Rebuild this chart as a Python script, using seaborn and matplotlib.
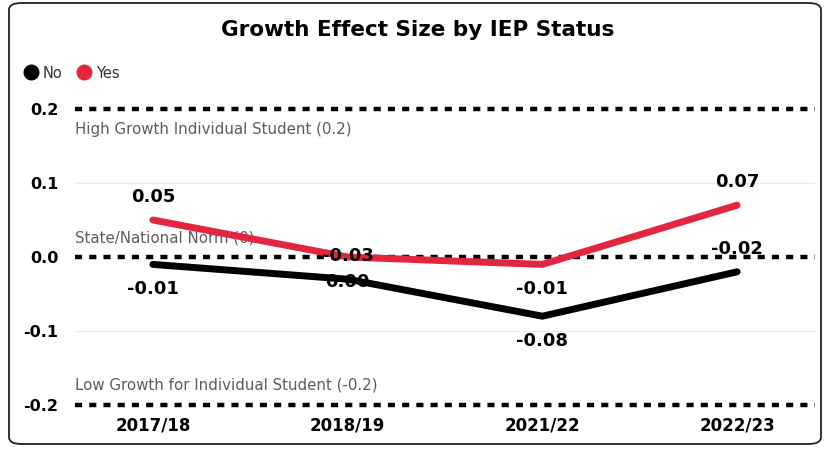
import matplotlib
matplotlib.use("Agg")
import matplotlib.pyplot as plt
from matplotlib.lines import Line2D
from matplotlib.patches import FancyBboxPatch
import seaborn as sns
import pandas as pd

# Data
years = ["2017/18", "2018/19", "2021/22", "2022/23"]
no_iep = [-0.01, -0.03, -0.08, -0.02]
yes_iep = [0.05, 0.00, -0.01, 0.07]
series_names = ["No", "Yes"]
y_ticks = [-0.2, -0.1, 0.0, 0.1, 0.2]
y_tick_labels = ["-0.2", "-0.1", "0.0", "0.1", "0.2"]
ref_values = [0.2, 0.0, -0.2]
ref_labels = ["High Growth Individual Student (0.2)", "State/National Norm (0)",
              "Low Growth for Individual Student (-0.2)"]

# label placement per point (above / below the line)
no_side = ["below", "above", "below", "above"]
yes_side = ["above", "below", "below", "above"]

colors = {"No": "#000000", "Yes": "#E3263F"}

df = pd.DataFrame({
    "year": years * 2,
    "value": no_iep + yes_iep,
    "series": [series_names[0]] * len(years) + [series_names[1]] * len(years),
})

sns.set_style("white")
plt.rcParams["text.color"] = "black"
fig = plt.figure(figsize=(8.27, 4.51), dpi=100)
ax = fig.add_axes([75 / 827, 1 - 405 / 451, 740 / 827, 296 / 451])

# Light gridlines at ±0.1
for v in [0.1, -0.1]:
    ax.axhline(v, color="#E9E9E9", lw=1.0, zorder=0)

# Dotted reference lines
for v in ref_values:
    ax.axhline(v, color="black", lw=3.2, ls=(0, (1.6, 1.6)), zorder=1, clip_on=False)

sns.lineplot(data=df, x="year", y="value", hue="series", palette=colors,
             sort=False, lw=5.0, legend=False, ax=ax, zorder=3)
for ln in ax.get_lines():
    ln.set_solid_capstyle("round")
    ln.set_solid_joinstyle("miter")

ax.set_xlim(-0.4, 3.4)
ax.set_ylim(-0.2, 0.2)

# Reference line captions
ref_offsets = [-21, 19, 20]
for v, txt, off in zip(ref_values, ref_labels, ref_offsets):
    ax.annotate(txt, xy=(-0.4, v), xytext=(0, off), textcoords="offset pixels",
                ha="left", va="center", fontsize=10.8, color="#5F5B57",
                family="DejaVu Sans", zorder=2)

# Data labels
for vals, sides in [(no_iep, no_side), (yes_iep, yes_side)]:
    for i, (v, s) in enumerate(zip(vals, sides)):
        off = 23 if s == "above" else -25
        ax.annotate(f"{v:.2f}", xy=(i, v), xytext=(0, off), textcoords="offset pixels",
                    ha="center", va="center", fontsize=13, fontweight="bold",
                    color="black", family="DejaVu Sans", zorder=5)

ax.set_yticks(y_ticks)
ax.set_yticklabels(y_tick_labels, fontsize=11.5, fontweight="bold",
                   family="DejaVu Sans", color="black")
ax.set_xticks(range(len(years)))
ax.set_xticklabels(years, fontsize=12, fontweight="bold", family="DejaVu Sans",
                   color="black")
ax.tick_params(axis="y", length=0, pad=12)
ax.tick_params(axis="x", length=0, pad=8)
ax.set_xlabel("")
ax.set_ylabel("")
for sp in ax.spines.values():
    sp.set_visible(False)

# Title
fig.text(418 / 827, 1 - 30 / 451, "Growth Effect Size by IEP Status", ha="center",
         va="center", fontsize=15.5, fontweight="bold", family="DejaVu Sans",
         color="black")

# Legend
handles = [Line2D([], [], marker="o", ls="none", color=colors[n], markersize=10.5)
           for n in series_names]
fig.legend(handles, series_names, loc="center left", bbox_to_anchor=(16 / 827, 1 - 73 / 451),
           ncol=2, frameon=False, handletextpad=0.2, columnspacing=0.9,
           prop={"family": "DejaVu Sans", "size": 10.5}, labelcolor="#333333",
           borderaxespad=0, handlelength=1.2)

# Rounded card border
border = FancyBboxPatch((9 / 827, 7 / 451), 812 / 827, 441 / 451,
                        boxstyle="round,pad=0,rounding_size=0.015",
                        transform=fig.transFigure, fill=False, ec="#222222", lw=1.3)
fig.patches.append(border)

fig.savefig("out.png", dpi=100)
